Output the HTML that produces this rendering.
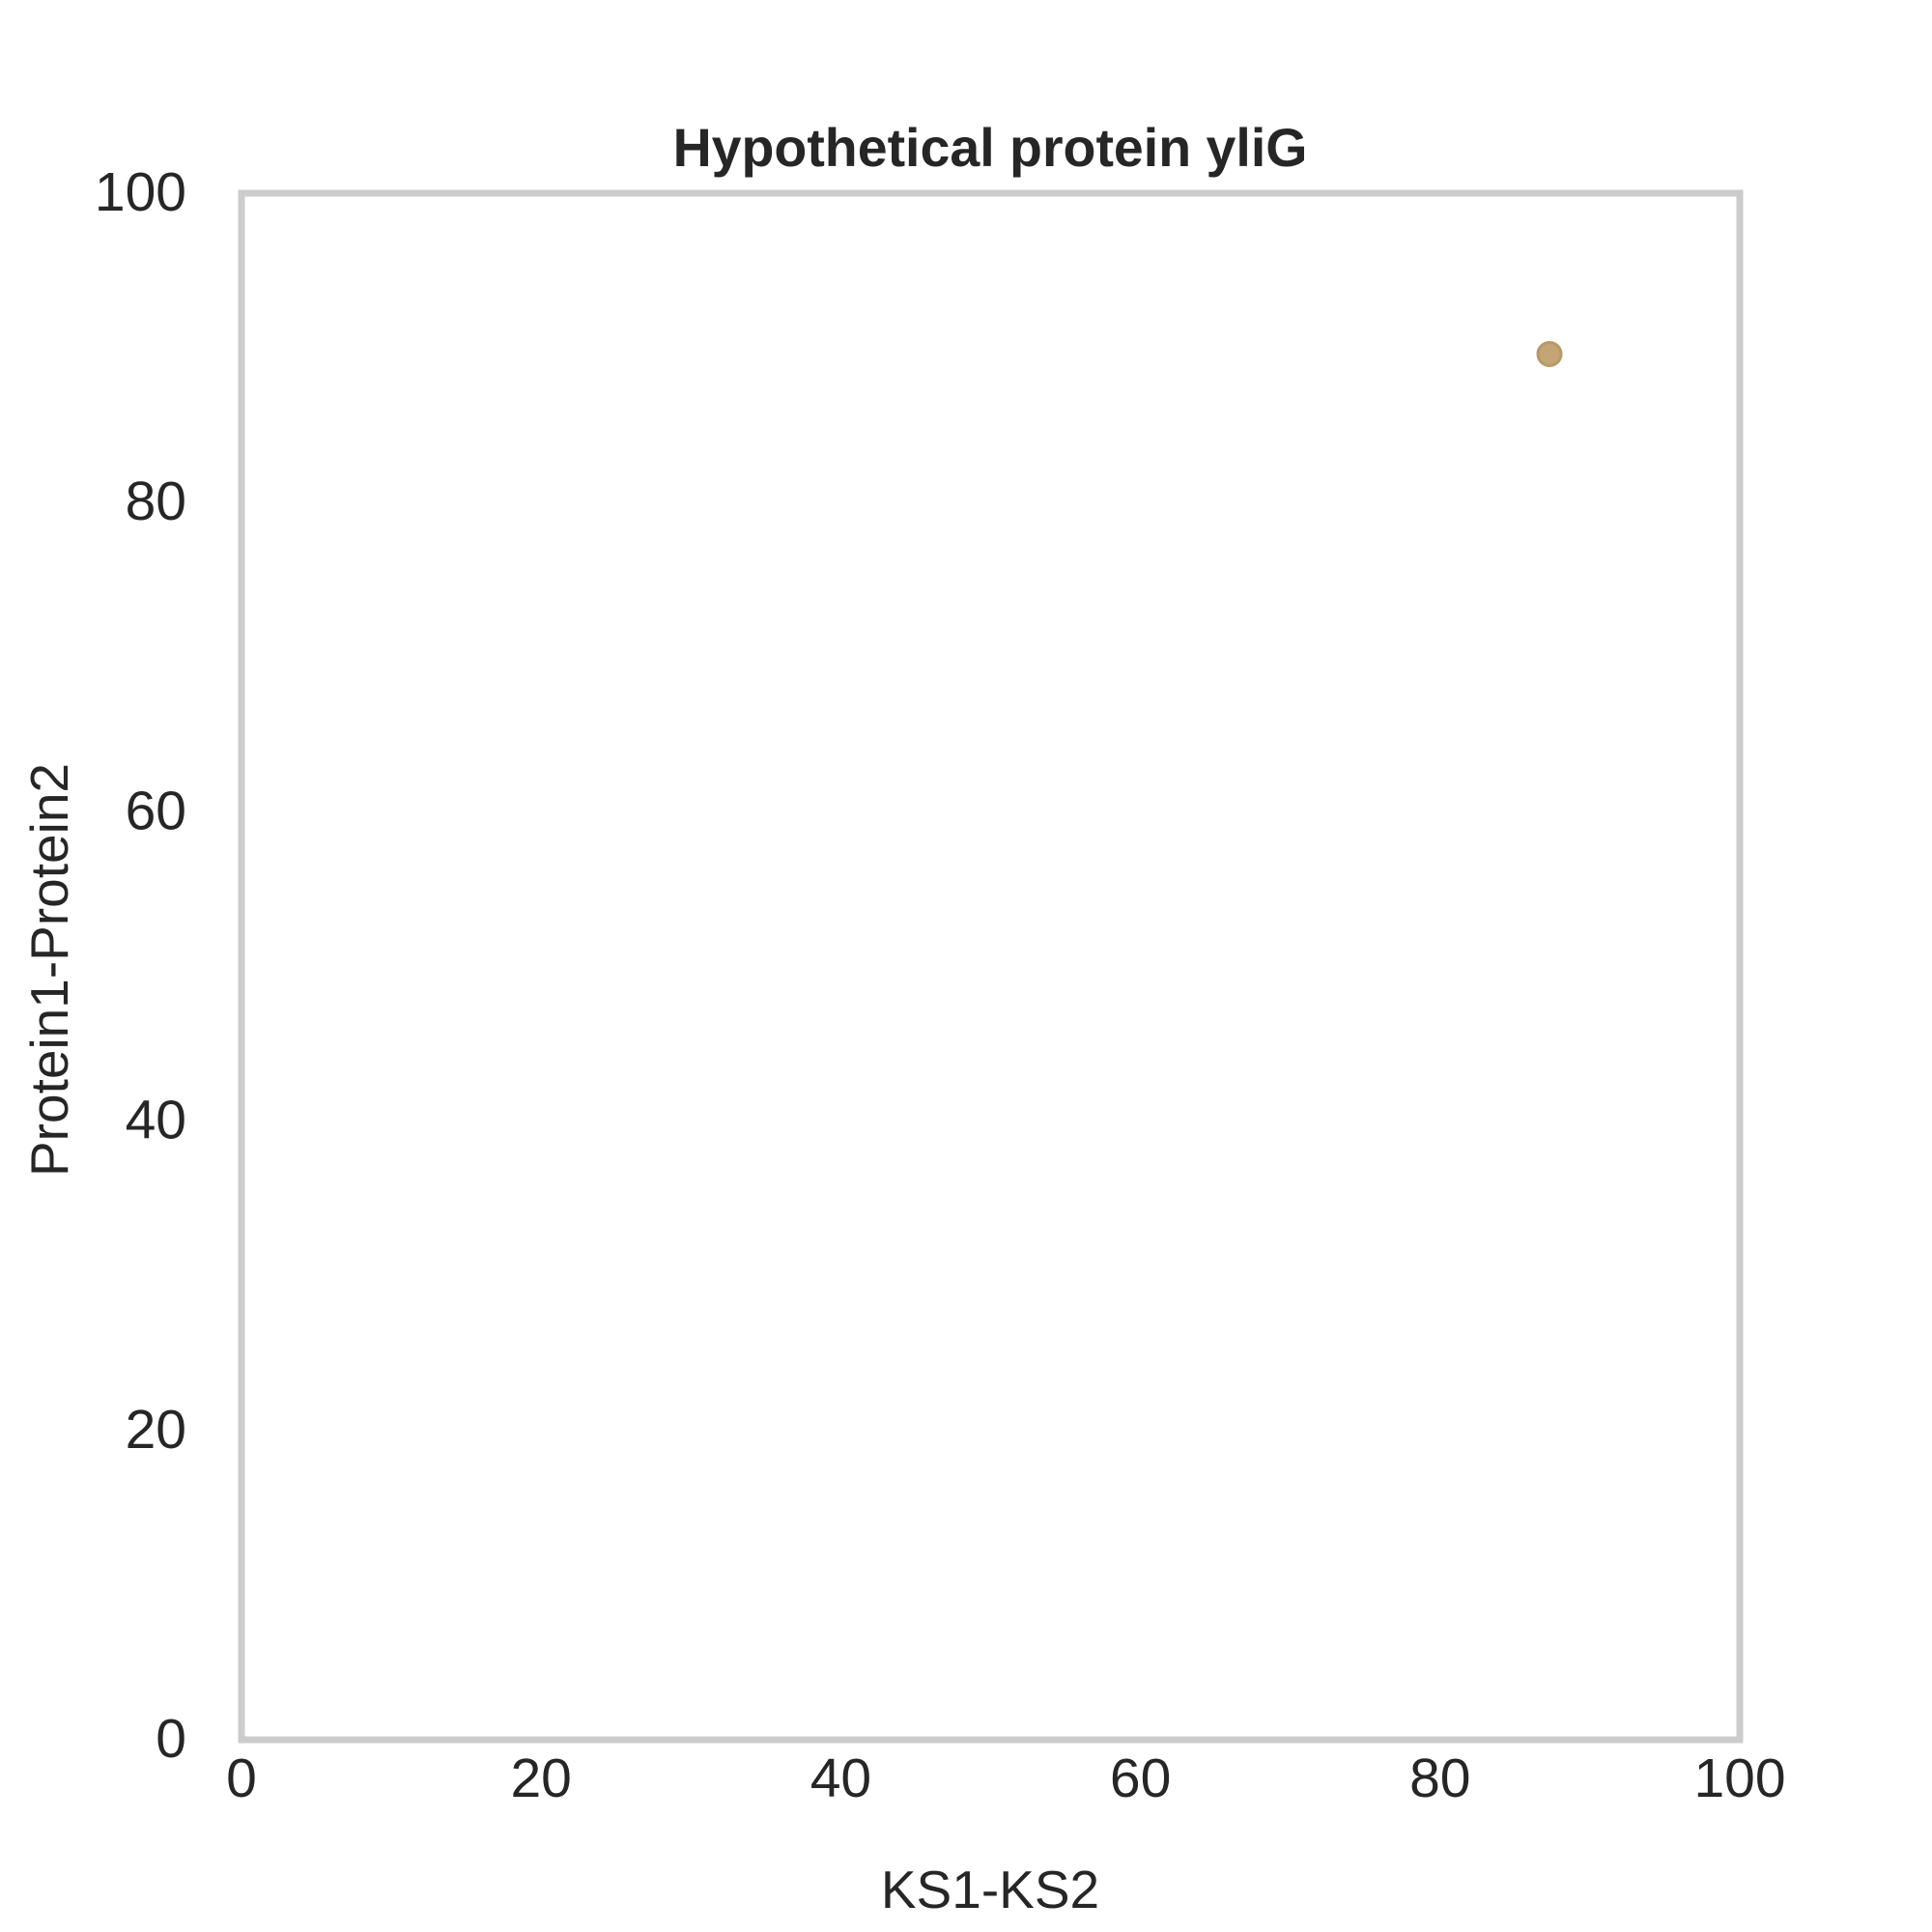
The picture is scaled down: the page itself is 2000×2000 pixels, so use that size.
<!DOCTYPE html>
<html><head><meta charset="utf-8"><style>body{margin:0;background:#fff}svg{display:block}</style></head>
<body>
<svg id="chart" width="2000" height="2000" xmlns="http://www.w3.org/2000/svg" font-family="Liberation Sans, Arial, sans-serif" fill="#262626">
<text x="1025" y="172" text-anchor="middle" font-size="55.5" font-weight="bold">Hypothetical protein yliG</text>
<g id="xticks"></g>
<g id="yticks"></g>
<g id="points"></g>
<rect x="250" y="200" width="1551" height="1601" fill="none" stroke="#cccccc" stroke-width="7"/>
<text x="1025" y="1975" text-anchor="middle" font-size="55">KS1-KS2</text>
<text transform="translate(70,1004) rotate(-90)" text-anchor="middle" font-size="55">Protein1-Protein2</text>
</svg>
<script>
const xTicks=[0,20,40,60,80,100];
const yTicks=[0,20,40,60,80,100];
const xValues=[87.3];
const yValues=[89.6];
const NS='http://www.w3.org/2000/svg';
function sx(v){return 250+v/100*1551;}
function sy(v){return 1801-v/100*1601;}
const xg=document.getElementById('xticks'),yg=document.getElementById('yticks'),pg=document.getElementById('points');
xTicks.forEach(t=>{const e=document.createElementNS(NS,'text');


e.setAttribute('x',sx(t));e.setAttribute('y',1860);e.setAttribute('text-anchor','middle');e.setAttribute('font-size','57');e.textContent=t;xg.appendChild(e);});
yTicks.forEach(t=>{const e=document.createElementNS(NS,'text');


e.setAttribute('x',193);e.setAttribute('y',sy(t)+18);e.setAttribute('text-anchor','end');e.setAttribute('font-size','57');e.textContent=t;yg.appendChild(e);});
xValues.forEach((x,i)=>{const c=document.createElementNS(NS,'circle');


c.setAttribute('cx',sx(x));c.setAttribute('cy',sy(yValues[i]));c.setAttribute('r',12);c.setAttribute('fill','#c4a576');c.setAttribute('stroke','#b89a68');c.setAttribute('stroke-width','3');pg.appendChild(c);});
</script>
</body></html>
